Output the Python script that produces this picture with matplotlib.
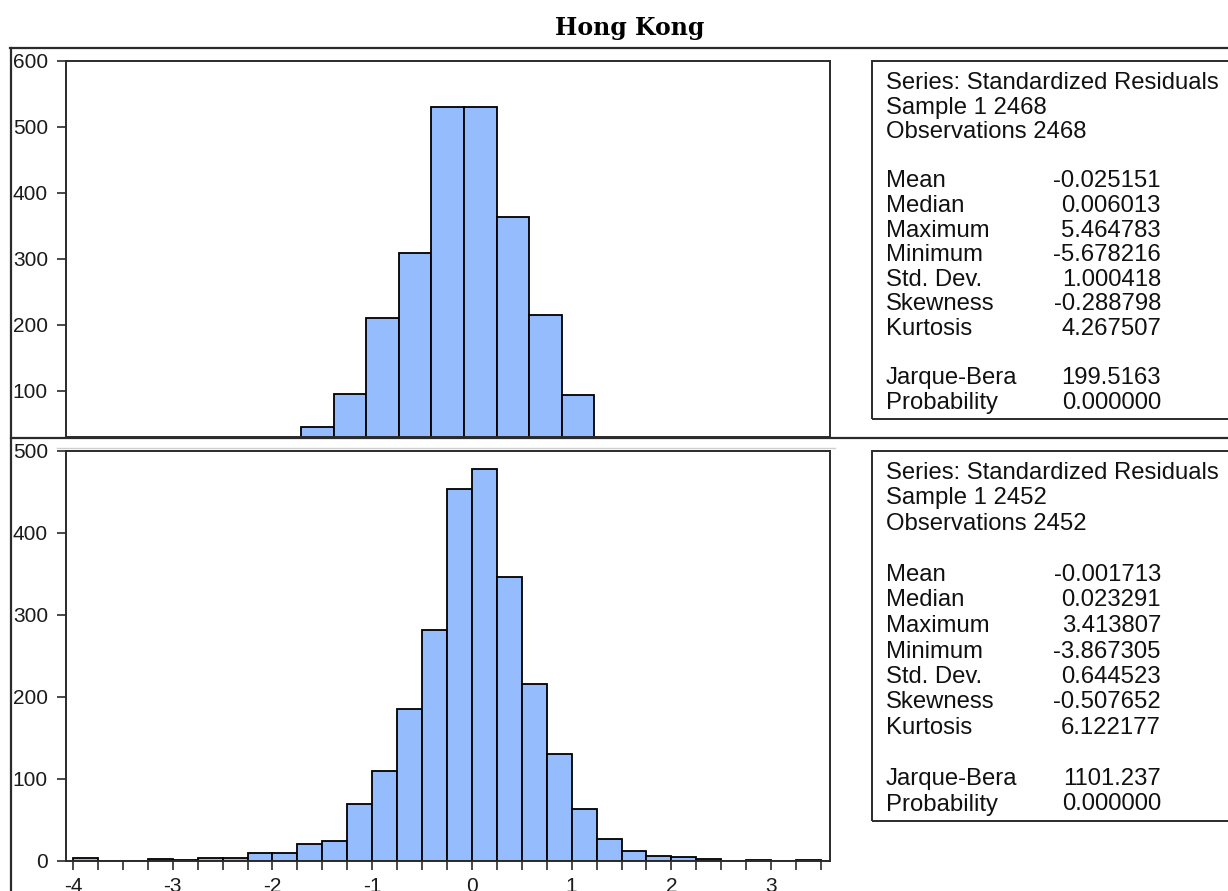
import numpy as np
import matplotlib
matplotlib.use("Agg")
import matplotlib.pyplot as plt
from matplotlib.lines import Line2D
from matplotlib.patches import Rectangle

plt.rcParams['font.family'] = ['Liberation Sans', 'DejaVu Sans']
plt.rcParams['axes.unicode_minus'] = False

# ---- data ----
title = "Hong Kong"

# top histogram (bins of 0.5, only the visible part of the cropped panel)
top_edges = [-2.5, -2.0, -1.5, -1.0, -0.5, 0.0, 0.5, 1.0, 1.5, 2.0]
top_counts = [45, 95, 211, 309, 531, 531, 364, 215, 93]

# bottom histogram (bins of 0.25 from -4 to 3.5)
bot_edges = list(np.arange(-4.0, 3.5001, 0.25))
bot_counts = [3, 0, 0, 2, 1, 3, 3, 10, 10, 20, 24, 69, 110, 185,
              281, 453, 478, 346, 216, 130, 63, 27, 12, 6, 5, 2, 0, 1, 0, 1]

top_stats_head = ["Series: Standardized Residuals", "Sample 1 2468", "Observations 2468"]
top_stat_names = ["Mean", "Median", "Maximum", "Minimum", "Std. Dev.", "Skewness", "Kurtosis"]
top_stat_vals = ["-0.025151", "0.006013", "5.464783", "-5.678216", "1.000418", "-0.288798", "4.267507"]
top_test_names = ["Jarque-Bera", "Probability"]
top_test_vals = ["199.5163", "0.000000"]

bot_stats_head = ["Series: Standardized Residuals", "Sample 1 2452", "Observations 2452"]
bot_stat_names = ["Mean", "Median", "Maximum", "Minimum", "Std. Dev.", "Skewness", "Kurtosis"]
bot_stat_vals = ["-0.001713", "0.023291", "3.413807", "-3.867305", "0.644523", "-0.507652", "6.122177"]
bot_test_names = ["Jarque-Bera", "Probability"]
bot_test_vals = ["1101.237", "0.000000"]

W, H = 1228, 891
fig = plt.figure(figsize=(W / 100, H / 100), dpi=100)


def fx(x):
    return x / W


def fy(y):
    return 1 - y / H


bar_color = '#95BCFC'
spine_color = '#2b2b2b'
tick_fs = 15


def style_axis(ax):
    for s in ax.spines.values():
        s.set_color(spine_color)
        s.set_linewidth(1.4)
    ax.tick_params(axis='both', direction='out', length=6.5, width=1.2,
                   color=spine_color, labelsize=tick_fs, labelcolor='#1a1a1a', pad=6.5)


# top panel
ax1 = fig.add_axes([fx(66), fy(437), fx(830) - fx(66), fy(61) - fy(437)])
ax1.bar(top_edges[:-1], top_counts, width=np.diff(top_edges), align='edge',
        color=bar_color, edgecolor='black', linewidth=1.3)
ax1.set_xlim(-6.11, 5.62)
ax1.set_ylim(30, 600)
ax1.set_yticks([100, 200, 300, 400, 500, 600])
ax1.set_xticks([])
style_axis(ax1)

# bottom panel
ax2 = fig.add_axes([fx(66), fy(860.7), fx(830) - fx(66), fy(450.7) - fy(860.7)])
ax2.bar(bot_edges[:-1], bot_counts, width=0.25, align='edge',
        color=bar_color, edgecolor='black', linewidth=1.3)
ax2.set_xlim(-4.07, 3.59)
ax2.set_ylim(0, 500)
ax2.set_yticks([0, 100, 200, 300, 400, 500])
ax2.set_xticks([-4, -3, -2, -1, 0, 1, 2, 3])
ax2.set_xticks(np.arange(-4, 3.51, 0.25), minor=True)
style_axis(ax2)
ax2.tick_params(axis='x', which='minor', direction='out', length=6.5, width=1.2, color=spine_color)
ax2.tick_params(axis='x', which='major', pad=5)

# outer frame lines
fig.add_artist(Line2D([fx(10), fx(W)], [fy(48), fy(48)], color='#2b2b2b', lw=1.6))
fig.add_artist(Line2D([fx(11), fx(11)], [fy(48), fy(H)], color='#2b2b2b', lw=1.6))
fig.add_artist(Line2D([fx(11), fx(W)], [fy(437.5), fy(437.5)], color='#2b2b2b', lw=1.6))
fig.add_artist(Line2D([fx(57), fx(835)], [fy(448), fy(448)], color='#cfcfcf', lw=1.0))

fig.text(fx(630), fy(28), title, ha='center', va='center',
         fontsize=17, fontweight='bold', family='DejaVu Serif')


def stats_box(top, bottom, head, names, vals, tnames, tvals, step):
    fig.add_artist(Rectangle((fx(872), fy(bottom)), fx(W + 20) - fx(872), fy(top) - fy(bottom),
                             transform=fig.transFigure, fill=False, edgecolor='#2b2b2b', lw=1.4))
    fs = 17.2
    y = top + 22
    for line in head:
        fig.text(fx(886), fy(y), line, ha='left', va='center', fontsize=fs, color='#111')
        y += step
    y += step
    for n, v in zip(names, vals):
        fig.text(fx(886), fy(y), n, ha='left', va='center', fontsize=fs, color='#111')
        fig.text(fx(1161), fy(y), v, ha='right', va='center', fontsize=fs, color='#111')
        y += step
    y += step
    for n, v in zip(tnames, tvals):
        fig.text(fx(886), fy(y), n, ha='left', va='center', fontsize=fs, color='#111')
        fig.text(fx(1161), fy(y), v, ha='right', va='center', fontsize=fs, color='#111')
        y += step


stats_box(61, 419, top_stats_head, top_stat_names, top_stat_vals, top_test_names, top_test_vals, 24.6)
stats_box(451, 821, bot_stats_head, bot_stat_names, bot_stat_vals, bot_test_names, bot_test_vals, 25.5)

fig.savefig('out.png', dpi=100)
